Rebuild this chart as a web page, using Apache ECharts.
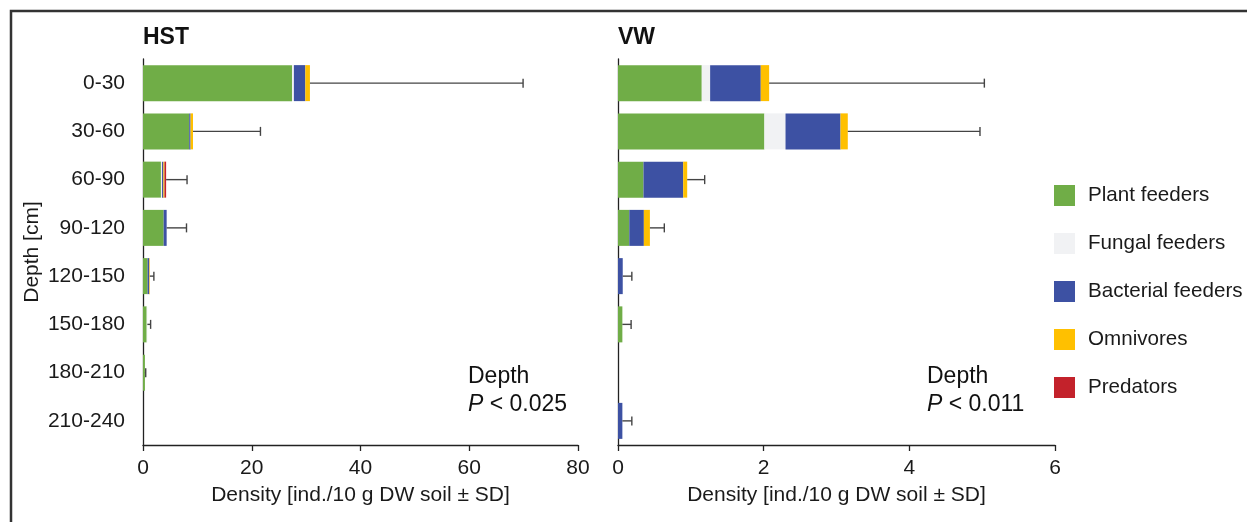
<!DOCTYPE html>
<html>
<head>
<meta charset="utf-8">
<script src="https://cdn.jsdelivr.net/npm/echarts@6/dist/echarts.min.js"></script>
<style>
html,body{margin:0;padding:0;background:#fff;}
#c{width:1247px;height:522px;}
</style>
</head>
<body>
<div id="c"></div>
<script>
// ---- data ----
const depths = ['0-30','30-60','60-90','90-120','120-150','150-180','180-210','210-240'];
const groups = ['Plant feeders','Fungal feeders','Bacterial feeders','Omnivores','Predators'];
const colors = ['#70AD47','#F1F2F4','#3D51A3','#FFC000','#C3222B'];

// HST
const hstPlant      = [27.4, 8.5, 3.3, 3.8, 0.85, 0.68, 0.35, 0];
const hstFungal     = [0.35, 0, 0.2, 0, 0, 0.12, 0, 0];
const hstBacterial  = [2.1, 0.25, 0.25, 0.55, 0.3, 0, 0, 0];
const hstOmnivores  = [0.85, 0.45, 0.2, 0, 0.1, 0, 0, 0];
const hstPredators  = [0, 0, 0.3, 0, 0, 0, 0, 0];
const hstSD         = [39.2, 12.4, 3.85, 3.65, 0.75, 0.6, 0.15, 0];

// VW
const vwPlant      = [1.15, 2.01, 0.35, 0.155, 0, 0.06, 0, 0];
const vwFungal     = [0.115, 0.29, 0, 0, 0, 0, 0, 0];
const vwBacterial  = [0.695, 0.755, 0.545, 0.2, 0.065, 0, 0, 0.06];
const vwOmnivores  = [0.115, 0.10, 0.055, 0.083, 0, 0, 0, 0];
const vwPredators  = [0, 0, 0, 0, 0, 0, 0, 0];
const vwSD         = [2.955, 1.815, 0.24, 0.198, 0.125, 0.12, 0, 0.13];

const hstTicks = [0, 20, 40, 60, 80];
const vwTicks = [0, 2, 4, 6];

// ---- build ----
const hstSeries = [hstPlant, hstFungal, hstBacterial, hstOmnivores, hstPredators];
const vwSeries = [vwPlant, vwFungal, vwBacterial, vwOmnivores, vwPredators];

function totals(arrs){ return depths.map((_,i)=>arrs.reduce((s,a)=>s+a[i],0)); }
function errData(arrs, sd){
  const t = totals(arrs);
  return depths.map((_,i)=>[t[i], t[i]+sd[i], i]);
}

const FONT = 'Liberation Sans, Arial, sans-serif';
const TXT = '#1a1a1a';
const AX = '#222';
const FS = 21;

function barSeries(arrs, gi){
  return arrs.map((a,k)=>({
    name: groups[k], type:'bar', stack:'s'+gi, xAxisIndex:gi, yAxisIndex:gi,
    data:a, barWidth:36, itemStyle:{color:colors[k]}, emphasis:{disabled:true},
    animation:false
  }));
}
function errSeries(arrs, sd, gi){
  return {
    type:'custom', xAxisIndex:gi, yAxisIndex:gi, z:10, animation:false, silent:true,
    encode:{x:[0,1], y:2},
    data: errData(arrs, sd),
    renderItem:function(params, api){
      const idx = api.value(2);
      const s = api.coord([api.value(0), idx]);
      const e = api.coord([api.value(1), idx]);
      if (e[0]-s[0] < 0.5) return null;
      const st = {stroke:'#444', lineWidth:1.4};
      return {type:'group', children:[
        {type:'line', shape:{x1:s[0],y1:s[1],x2:e[0],y2:e[1]}, style:st},
        {type:'line', shape:{x1:e[0],y1:e[1]-4.5,x2:e[0],y2:e[1]+4.5}, style:st}
      ]};
    }
  };
}

function xAxis(gi, ticks){
  return {
    type:'value', gridIndex:gi, min:ticks[0], max:ticks[ticks.length-1],
    interval:ticks[1]-ticks[0],
    axisLine:{show:true, lineStyle:{color:AX, width:1.3}},
    axisTick:{show:true, length:6, lineStyle:{color:AX, width:1.3}},
    splitLine:{show:false},
    axisLabel:{fontSize:FS, color:TXT, fontFamily:FONT, margin:13},
    name:'Density [ind./10 g DW soil ± SD]', nameLocation:'middle', nameGap:40,
    nameTextStyle:{fontSize:FS, color:TXT, fontFamily:FONT}
  };
}
function yAxis(gi, showLabels){
  return {
    type:'category', gridIndex:gi, data:depths, inverse:true,
    axisLine:{show:true, lineStyle:{color:AX, width:1.3}},
    axisTick:{show:false},
    axisLabel:{show:showLabels, fontSize:FS, color:TXT, fontFamily:FONT, margin:18},
    name: showLabels ? 'Depth [cm]' : '', nameLocation:'middle', nameGap:100,
    nameRotate:90,
    nameTextStyle:{fontSize:FS, color:TXT, fontFamily:FONT}
  };
}

const chart = echarts.init(document.getElementById('c'), null, {renderer:'canvas'});
chart.setOption({
  animation:false,
  backgroundColor:'#fff',
  textStyle:{fontFamily:FONT},
  grid:[
    {left:143, right:1247-578, top:59, bottom:522-445},
    {left:618, right:1247-1055, top:59, bottom:522-445}
  ],
  xAxis:[xAxis(0, hstTicks), xAxis(1, vwTicks)],
  yAxis:[yAxis(0, true), yAxis(1, false)],
  legend:{
    data:groups, orient:'vertical', left:1054, top:185, padding:0,
    itemWidth:21, itemHeight:21, itemGap:27, icon:'rect',
    textStyle:{fontSize:20.6, color:TXT, fontFamily:FONT, padding:[0,0,0,8]},
    selectedMode:false
  },
  series:[
    ...barSeries(hstSeries,0), errSeries(hstSeries,hstSD,0),
    ...barSeries(vwSeries,1), errSeries(vwSeries,vwSD,1)
  ],
  graphic:[
    {type:'rect', shape:{x:11, y:11, width:1400, height:700}, style:{fill:'none', stroke:'#333', lineWidth:2.5}, silent:true},
    {type:'text', left:143, top:26, style:{text:'HST', font:'bold 23px '+FONT, fill:'#111'}},
    {type:'text', left:618, top:26, style:{text:'VW', font:'bold 23px '+FONT, fill:'#111'}},
    {type:'text', left:468, top:365, style:{text:'Depth', font:'23px '+FONT, fill:'#111'}},
    {type:'text', left:468, top:393, style:{text:'{i|P} < 0.025', font:'23px '+FONT, fill:'#111',
      rich:{i:{fontStyle:'italic', fontSize:23, fontFamily:FONT, fill:'#111'}}}},
    {type:'text', left:927, top:365, style:{text:'Depth', font:'23px '+FONT, fill:'#111'}},
    {type:'text', left:927, top:393, style:{text:'{i|P} < 0.011', font:'23px '+FONT, fill:'#111',
      rich:{i:{fontStyle:'italic', fontSize:23, fontFamily:FONT, fill:'#111'}}}}
  ]
});
</script>
</body>
</html>
